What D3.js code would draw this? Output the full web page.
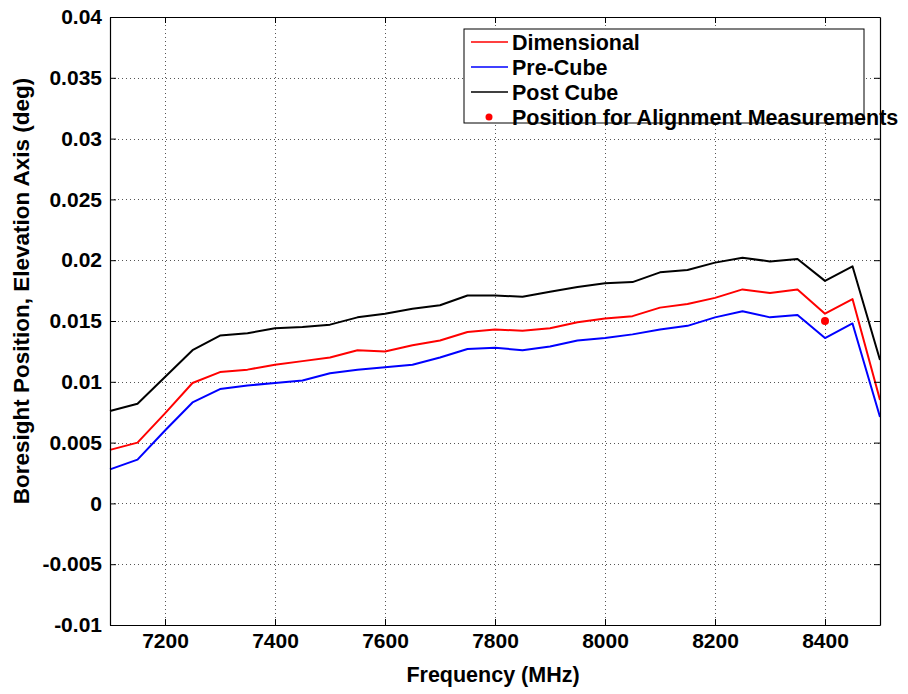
<!DOCTYPE html>
<html>
<head>
<meta charset="utf-8">
<script src="https://cdn.jsdelivr.net/npm/d3@7"></script>
<style>
body { margin: 0; background: #fff; }
svg { display: block; }
.tick text { font-family: "Liberation Sans", Arial, sans-serif; font-weight: bold; }
</style>
</head>
<body>
<svg id="chart"></svg>
<script>
// frequency points (MHz)
var freqs = [7100, 7150, 7200, 7250, 7300, 7350, 7400, 7450, 7500, 7550, 7600, 7650, 7700, 7750, 7800,
    7850, 7900, 7950, 8000, 8050, 8100, 8150, 8200, 8250, 8300, 8350, 8400, 8450, 8500];

var dimensional = [0.0044, 0.0050, 0.0074, 0.0099, 0.0108, 0.0110, 0.0114, 0.0117, 0.0120, 0.0126, 0.0125, 0.0130, 0.0134, 0.0141, 0.0143,
    0.0142, 0.0144, 0.0149, 0.0152, 0.0154, 0.0161, 0.0164, 0.0169, 0.0176, 0.0173, 0.0176, 0.0156, 0.0168, 0.0085];

var preCube = [0.0028, 0.0036, 0.0060, 0.0083, 0.0094, 0.0097, 0.0099, 0.0101, 0.0107, 0.0110, 0.0112, 0.0114, 0.0120, 0.0127, 0.0128,
    0.0126, 0.0129, 0.0134, 0.0136, 0.0139, 0.0143, 0.0146, 0.0153, 0.0158, 0.0153, 0.0155, 0.0136, 0.0148, 0.0071];

var postCube = [0.0076, 0.0082, 0.0104, 0.0126, 0.0138, 0.0140, 0.0144, 0.0145, 0.0147, 0.0153, 0.0156, 0.0160, 0.0163, 0.0171, 0.0171,
    0.0170, 0.0174, 0.0178, 0.0181, 0.0182, 0.0190, 0.0192, 0.0198, 0.0202, 0.0199, 0.0201, 0.0183, 0.0195, 0.0118];

var alignPoint = [{freq: 8400, value: 0.015}];

var xTicks = [7200, 7400, 7600, 7800, 8000, 8200, 8400];
var yTicks = [-0.01, -0.005, 0, 0.005, 0.01, 0.015, 0.02, 0.025, 0.03, 0.035, 0.04];
var yTickLabels = ["-0.01", "-0.005", "0", "0.005", "0.01", "0.015", "0.02", "0.025", "0.03", "0.035", "0.04"];

var seriesNames = ["Dimensional", "Pre-Cube", "Post Cube"];
var seriesColors = ["#ff0000", "#0000ff", "#000000"];

var screen = {width: 908, height: 694};
var margins = {left: 110, right: 28, top: 17, bottom: 69};
var graph = {
    width: screen.width - margins.left - margins.right,
    height: screen.height - margins.top - margins.bottom
};

var svg = d3.select("#chart")
    .attr("width", screen.width)
    .attr("height", screen.height);

var xScale = d3.scaleLinear()
    .domain([7100, 8500])
    .range([0, graph.width]);

var yScale = d3.scaleLinear()
    .domain([-0.01, 0.04])
    .range([graph.height, 0]);

var target = svg.append("g")
    .attr("transform", "translate(" + margins.left + "," + margins.top + ")");

// grid
var grid = target.append("g").attr("stroke", "#555").attr("stroke-width", 1)
    .attr("stroke-dasharray", "1,3");
grid.selectAll(".vg").data(xTicks).enter().append("line")
    .attr("x1", function (d) { return Math.round(xScale(d)) + 0.5; })
    .attr("x2", function (d) { return Math.round(xScale(d)) + 0.5; })
    .attr("y1", 0).attr("y2", graph.height);
grid.selectAll(".hg").data(yTicks.slice(1, -1)).enter().append("line")
    .attr("y1", function (d) { return Math.round(yScale(d)) + 0.5; })
    .attr("y2", function (d) { return Math.round(yScale(d)) + 0.5; })
    .attr("x1", 0).attr("x2", graph.width);

// lines
var seriesData = [dimensional, preCube, postCube];
var lineGenerator = d3.line()
    .x(function (d, i) { return xScale(freqs[i]); })
    .y(function (d) { return yScale(d); });

target.selectAll(".series").data(seriesData).enter().append("path")
    .attr("fill", "none")
    .attr("stroke", function (d, i) { return seriesColors[i]; })
    .attr("stroke-width", 2)
    .attr("stroke-linejoin", "round")
    .attr("d", lineGenerator);

target.selectAll(".dot").data(alignPoint).enter().append("circle")
    .attr("cx", function (d) { return xScale(d.freq); })
    .attr("cy", function (d) { return yScale(d.value); })
    .attr("r", 4)
    .attr("fill", "#ff0000");

// axes (MATLAB box with inward ticks)
var xAxis = d3.axisBottom(xScale).tickValues(xTicks).tickSizeInner(-6).tickSizeOuter(0).tickPadding(8)
    .tickFormat(d3.format("d"));
var yAxis = d3.axisLeft(yScale).tickValues(yTicks).tickSizeInner(-6).tickSizeOuter(0).tickPadding(8)
    .tickFormat(function (d, i) { return yTickLabels[i]; });

var xa = target.append("g").attr("transform", "translate(0," + graph.height + ")").call(xAxis);
xa.selectAll("text").attr("font-size", 21);
var ya = target.append("g").call(yAxis);
ya.selectAll("text").attr("font-size", 21);

target.append("g").attr("transform", "translate(0,0)")
    .call(d3.axisTop(xScale).tickValues(xTicks).tickSizeInner(-6).tickSizeOuter(0).tickFormat(""));
target.append("g").attr("transform", "translate(" + graph.width + ",0)")
    .call(d3.axisRight(yScale).tickValues(yTicks).tickSizeInner(-6).tickSizeOuter(0).tickFormat(""));

target.selectAll(".domain").attr("stroke", "#000").attr("stroke-width", 1.2);
target.selectAll(".tick line").attr("stroke", "#000");

// labels
svg.append("text")
    .text("Frequency (MHz)")
    .attr("x", 493)
    .attr("y", 682)
    .attr("text-anchor", "middle")
    .attr("font-size", 21.5)
    .attr("font-weight", "bold")
    .attr("font-family", "'Liberation Sans', Arial, sans-serif");

svg.append("g")
    .attr("transform", "translate(29,291)")
    .append("text")
    .text("Boresight Position, Elevation Axis (deg)")
    .attr("transform", "rotate(-90)")
    .attr("text-anchor", "middle")
    .attr("font-size", 22.5)
    .attr("font-weight", "bold")
    .attr("font-family", "'Liberation Sans', Arial, sans-serif");

// legend
var legend = svg.append("g").attr("transform", "translate(464,29)");
legend.append("rect")
    .attr("width", 400).attr("height", 94)
    .attr("fill", "#fff").attr("stroke", "#000").attr("stroke-width", 1);

var legendNames = seriesNames.concat(["Position for Alignment Measurements"]);
var entries = legend.selectAll(".entry").data(legendNames).enter().append("g")
    .attr("transform", function (d, i) { return "translate(0," + (13 + i * 25) + ")"; });
entries.filter(function (d, i) { return i < 3; }).append("line")
    .attr("x1", 7).attr("x2", 44).attr("y1", 0).attr("y2", 0)
    .attr("stroke", function (d, i) { return seriesColors[i]; })
    .attr("stroke-width", 1.5);
entries.filter(function (d, i) { return i == 3; }).append("circle")
    .attr("cx", 25).attr("cy", 0).attr("r", 3.5).attr("fill", "#ff0000");
entries.append("text")
    .text(function (d) { return d; })
    .attr("x", 48).attr("y", 8)
    .attr("font-size", 21.5)
    .attr("font-weight", "bold")
    .attr("font-family", "'Liberation Sans', Arial, sans-serif");
</script>
</body>
</html>
